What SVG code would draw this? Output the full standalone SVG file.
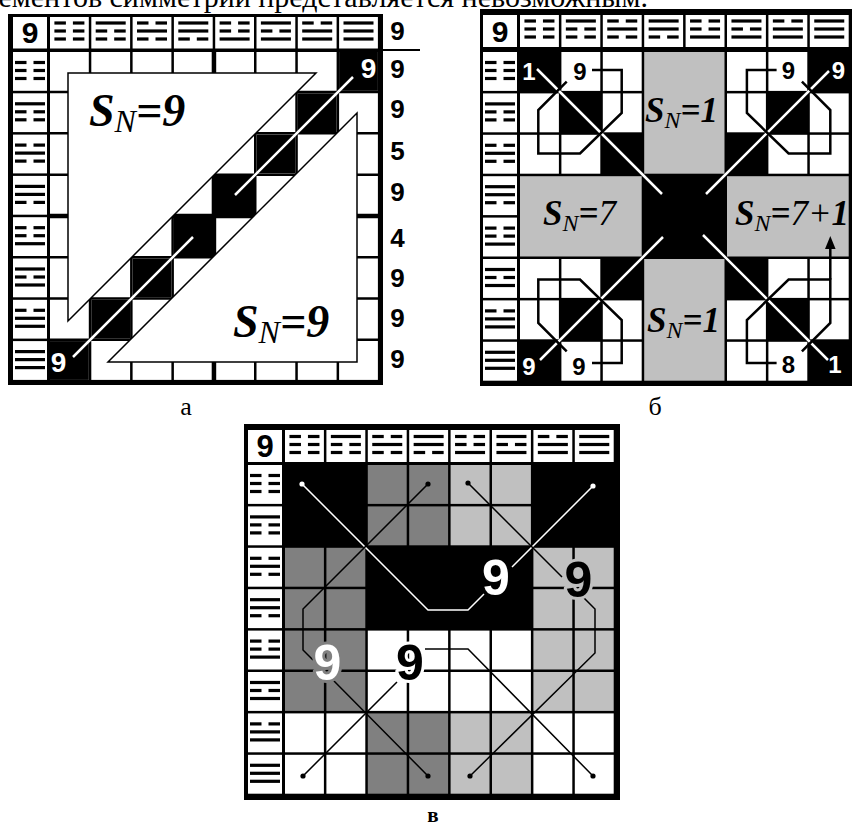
<svg xmlns="http://www.w3.org/2000/svg" xmlns:xlink="http://www.w3.org/1999/xlink" width="852" height="829" viewBox="0 0 852 829">
<style>
.k{fill:#000}.w{fill:#fff}.d{fill:#808080}.g{fill:#c0c0c0}
.num{font-family:"Liberation Sans",Arial,sans-serif;font-weight:bold;text-anchor:middle}
.sn{font-family:"Liberation Serif","Times New Roman",serif;font-style:italic;font-weight:bold}
.sub{font-weight:normal}
.cap{font-family:"Liberation Serif","Times New Roman",serif}
.wl{stroke:#fff;stroke-width:2.5;fill:none}
.bl{stroke:#000;stroke-width:2.5;fill:none}
.thin{stroke:#000;stroke-width:1.5;fill:none}
.thinw{stroke:#fff;stroke-width:1.5;fill:none}
.grid{stroke:#000;stroke-width:2.5;fill:none}
.tri{fill:#fff;stroke:#000;stroke-width:1.5}
</style>
<defs>
<rect id="hs" x="-15" y="-1.6" width="30" height="3.2"/>
<g id="hb"><rect x="-15" y="-1.6" width="11.5" height="3.2"/><rect x="3.5" y="-1.6" width="11.5" height="3.2"/></g>
<g id="t0"><use href="#hb" y="-8"/><use href="#hb"/><use href="#hb" y="8"/></g>
<g id="t1"><use href="#hs" y="-8"/><use href="#hb"/><use href="#hb" y="8"/></g>
<g id="t2"><use href="#hb" y="-8"/><use href="#hs"/><use href="#hb" y="8"/></g>
<g id="t3"><use href="#hs" y="-8"/><use href="#hs"/><use href="#hb" y="8"/></g>
<g id="t4"><use href="#hb" y="-8"/><use href="#hb"/><use href="#hs" y="8"/></g>
<g id="t5"><use href="#hs" y="-8"/><use href="#hb"/><use href="#hs" y="8"/></g>
<g id="t6"><use href="#hb" y="-8"/><use href="#hs"/><use href="#hs" y="8"/></g>
<g id="t7"><use href="#hs" y="-8"/><use href="#hs"/><use href="#hs" y="8"/></g>
<rect id="cb" width="38.9" height="38.9"/>
<rect id="hc" width="38.9" height="32"/>
<rect id="lc" width="34" height="38.9"/>
</defs>

<rect width="852" height="829" fill="#fff"/>
<text x="648" y="7" class="cap" font-size="30" text-anchor="end">элементов симметрии представляется невозможным.</text>

<!-- ================= Panel a ================= -->
<g id="panel-a">
<rect x="8" y="14" width="375" height="371" class="k"/>
<g id="a-header" class="w">
<rect x="13" y="17" width="34" height="31.5"/>
<rect x="50" y="17" width="38.8" height="31.5"/><rect x="91.3" y="17" width="38.8" height="31.5"/><rect x="132.6" y="17" width="38.8" height="31.5"/><rect x="173.9" y="17" width="38.8" height="31.5"/><rect x="215.2" y="17" width="38.8" height="31.5"/><rect x="256.5" y="17" width="38.8" height="31.5"/><rect x="297.8" y="17" width="38.8" height="31.5"/><rect x="339.1" y="17" width="38.8" height="31.5"/>
<rect x="13" y="52" width="34" height="38.8"/><rect x="13" y="93.3" width="34" height="38.8"/><rect x="13" y="134.6" width="34" height="38.8"/><rect x="13" y="175.9" width="34" height="38.8"/><rect x="13" y="217.2" width="34" height="38.8"/><rect x="13" y="258.5" width="34" height="38.8"/><rect x="13" y="299.8" width="34" height="38.8"/><rect x="13" y="341.1" width="34" height="38.8"/>
</g>
<g id="a-trigrams" class="k">
<use href="#t0" x="69.4" y="31"/><use href="#t1" x="110.7" y="31"/><use href="#t2" x="152" y="31"/><use href="#t3" x="193.3" y="31"/><use href="#t4" x="234.6" y="31"/><use href="#t5" x="275.9" y="31"/><use href="#t6" x="317.2" y="31"/><use href="#t7" x="358.5" y="31"/>
<use href="#t0" x="30" y="70.5"/><use href="#t1" x="30" y="111.8"/><use href="#t2" x="30" y="153.1"/><use href="#t3" x="30" y="194.4"/><use href="#t4" x="30" y="235.7"/><use href="#t5" x="30" y="277"/><use href="#t6" x="30" y="318.3"/><use href="#t7" x="30" y="359.6"/>
</g>
<text x="30" y="43" class="num" font-size="30">9</text>
<g id="a-grid">
<rect x="50" y="52" width="327.9" height="327.9" class="w"/>
<path class="grid" d="M90.05 52V380M131.35 52V380M172.65 52V380M255.25 52V380M296.55 52V380M337.85 52V380M50 92.05H378M50 133.35H378M50 174.65H378M50 257.25H378M50 298.55H378M50 339.85H378"/>
<path stroke="#000" stroke-width="4.5" fill="none" d="M213.95 52V380M50 215.95H378"/>
<g class="k">
<rect x="50" y="341.1" width="38.8" height="38.8"/><rect x="91.3" y="299.8" width="38.8" height="38.8"/><rect x="132.6" y="258.5" width="38.8" height="38.8"/><rect x="173.9" y="217.2" width="38.8" height="38.8"/><rect x="215.2" y="175.9" width="38.8" height="38.8"/><rect x="256.5" y="134.6" width="38.8" height="38.8"/><rect x="297.8" y="93.3" width="38.8" height="38.8"/><rect x="339.1" y="52" width="38.8" height="38.8"/>
</g>
</g>
<g id="a-triangles">
<polygon class="tri" points="68,73 316,73 68,321"/>
<polygon class="tri" points="357,113 357,362 108,362"/>
</g>
<g id="a-connectors">
<path class="wl" d="M73 357L193 237M235 195L353 77"/>
</g>
<text x="368.5" y="78" class="num" font-size="28" fill="#fff">9</text>
<text x="58.5" y="372" class="num" font-size="28" fill="#fff">9</text>
<text x="89" y="126" class="sn" font-size="46">S<tspan class="sub" font-size="32" dy="6">N</tspan><tspan dy="-6">=9</tspan></text>
<text x="233" y="337" class="sn" font-size="46">S<tspan class="sub" font-size="32" dy="6">N</tspan><tspan dy="-6">=9</tspan></text>
<g id="a-rowsums" class="num" font-size="26">
<text x="397.5" y="40">9</text>
<text x="397.5" y="78">9</text><text x="397.5" y="118">9</text><text x="397.5" y="160">5</text><text x="397.5" y="201">9</text><text x="397.5" y="247">4</text><text x="397.5" y="287">9</text><text x="397.5" y="327">9</text><text x="397.5" y="368">9</text>
</g>
<line x1="383" y1="50" x2="420" y2="50" stroke="#000" stroke-width="2"/>
<text x="186" y="415" class="cap" font-size="26" text-anchor="middle">а</text>
</g>

<!-- ================= Panel b ================= -->
<g id="panel-b">
<rect x="480" y="9" width="372" height="377" class="k"/>
<g id="b-header" class="w">
<rect x="483" y="15" width="34" height="32"/>
<use href="#hc" x="520" y="15"/><use href="#hc" x="561.4" y="15"/><use href="#hc" x="602.8" y="15"/><use href="#hc" x="644.2" y="15"/><use href="#hc" x="685.6" y="15"/><use href="#hc" x="727" y="15"/><use href="#hc" x="768.4" y="15"/><use href="#hc" x="809.8" y="15"/>
<use href="#lc" x="483" y="52"/><use href="#lc" x="483" y="93.4"/><use href="#lc" x="483" y="134.8"/><use href="#lc" x="483" y="176.2"/><use href="#lc" x="483" y="217.6"/><use href="#lc" x="483" y="259"/><use href="#lc" x="483" y="300.4"/><use href="#lc" x="483" y="341.8"/>
</g>
<g id="b-trigrams" class="k">
<use href="#t0" x="539.45" y="29"/><use href="#t1" x="580.85" y="29"/><use href="#t2" x="622.25" y="29"/><use href="#t3" x="663.65" y="29"/><use href="#t4" x="705.05" y="29"/><use href="#t5" x="746.45" y="29"/><use href="#t6" x="787.85" y="29"/><use href="#t7" x="829.25" y="29"/>
<use href="#t0" x="500" y="70.5"/><use href="#t1" x="500" y="111.9"/><use href="#t2" x="500" y="153.3"/><use href="#t3" x="500" y="194.7"/><use href="#t4" x="500" y="236.1"/><use href="#t5" x="500" y="277.5"/><use href="#t6" x="500" y="318.9"/><use href="#t7" x="500" y="360.3"/>
</g>
<text x="500" y="42" class="num" font-size="30">9</text>
<g id="b-cells" class="w">
<use href="#cb" x="561.4" y="52"/><use href="#cb" x="602.8" y="52"/><use href="#cb" x="520" y="93.4"/><use href="#cb" x="602.8" y="93.4"/><use href="#cb" x="520" y="134.8"/><use href="#cb" x="561.4" y="134.8"/>
<use href="#cb" x="727" y="52"/><use href="#cb" x="768.4" y="52"/><use href="#cb" x="727" y="93.4"/><use href="#cb" x="809.8" y="93.4"/><use href="#cb" x="768.4" y="134.8"/><use href="#cb" x="809.8" y="134.8"/>
<use href="#cb" x="520" y="259"/><use href="#cb" x="561.4" y="259"/><use href="#cb" x="520" y="300.4"/><use href="#cb" x="602.8" y="300.4"/><use href="#cb" x="561.4" y="341.8"/><use href="#cb" x="602.8" y="341.8"/>
<use href="#cb" x="768.4" y="259"/><use href="#cb" x="809.8" y="259"/><use href="#cb" x="727" y="300.4"/><use href="#cb" x="809.8" y="300.4"/><use href="#cb" x="727" y="341.8"/><use href="#cb" x="768.4" y="341.8"/>
</g>
<g id="b-gray" class="g">
<rect x="644.2" y="52" width="80.3" height="121.7"/>
<rect x="520" y="176.2" width="121.7" height="80.3"/>
<rect x="727" y="176.2" width="121.7" height="80.3"/>
<rect x="644.2" y="259" width="80.3" height="121.7"/>
</g>
<g id="b-connectors">
<path class="wl" d="M537 69L662 194M829 71L706 194M540 360L663 237M703 235L828 360"/>
<path class="bl" d="M592 70H621.7V113L580 153.5H538.3V110L566.7 81.7"/>
<path class="bl" d="M776.6 70H746.9V113L788.6 153.5H830.3V110L801.9 81.7"/>
<path class="bl" d="M592 363H621.7V320L580 279.5H538.3V323L566.7 351.3"/>
<path class="bl" d="M776.6 363H746.9V320L788.6 279.5H830.3V323L801.9 351.3"/>
<path class="bl" stroke-width="3" d="M830.3 279.5V247"/>
<polygon points="830.3,236 825,249 835.6,249" class="k"/>
</g>
<g id="b-labels" class="num" font-size="24">
<text x="529" y="80" fill="#fff">1</text><text x="580" y="80">9</text>
<text x="788.5" y="79">9</text><text x="838.5" y="79" fill="#fff">9</text>
<text x="529" y="375" fill="#fff">9</text><text x="579" y="375">9</text>
<text x="788.5" y="373">8</text><text x="835" y="373" fill="#fff">1</text>
</g>
<text x="645" y="122" class="sn" font-size="35">S<tspan class="sub" font-size="24" dy="6">N</tspan><tspan dy="-6">=1</tspan></text>
<text x="543" y="225" class="sn" font-size="35">S<tspan class="sub" font-size="24" dy="6">N</tspan><tspan dy="-6">=</tspan><tspan class="sub">7</tspan></text>
<text x="735" y="225" class="sn" font-size="35">S<tspan class="sub" font-size="24" dy="6">N</tspan><tspan dy="-6">=</tspan><tspan class="sub">7+</tspan>1</text>
<text x="647" y="332" class="sn" font-size="35">S<tspan class="sub" font-size="24" dy="6">N</tspan><tspan dy="-6">=1</tspan></text>
<text x="655" y="415" class="cap" font-size="26" text-anchor="middle">б</text>
</g>

<!-- ================= Panel c ================= -->
<g id="panel-c">
<rect x="244" y="424" width="376" height="376" class="k"/>
<g id="c-header" class="w">
<rect x="248" y="430" width="34" height="32"/>
<use href="#hc" x="285" y="430"/><use href="#hc" x="326.4" y="430"/><use href="#hc" x="367.8" y="430"/><use href="#hc" x="409.2" y="430"/><use href="#hc" x="450.6" y="430"/><use href="#hc" x="492" y="430"/><use href="#hc" x="533.4" y="430"/><use href="#hc" x="574.8" y="430"/>
<use href="#lc" x="248" y="465"/><use href="#lc" x="248" y="506.4"/><use href="#lc" x="248" y="547.8"/><use href="#lc" x="248" y="589.2"/><use href="#lc" x="248" y="630.6"/><use href="#lc" x="248" y="672"/><use href="#lc" x="248" y="713.4"/><use href="#lc" x="248" y="754.8"/>
</g>
<g id="c-trigrams" class="k">
<use href="#t0" x="304.45" y="444.5"/><use href="#t1" x="345.85" y="444.5"/><use href="#t2" x="387.25" y="444.5"/><use href="#t3" x="428.65" y="444.5"/><use href="#t4" x="470.05" y="444.5"/><use href="#t5" x="511.45" y="444.5"/><use href="#t6" x="552.85" y="444.5"/><use href="#t7" x="594.25" y="444.5"/>
<use href="#t0" x="265" y="483.5"/><use href="#t1" x="265" y="524.9"/><use href="#t2" x="265" y="566.3"/><use href="#t3" x="265" y="607.7"/><use href="#t4" x="265" y="649.1"/><use href="#t5" x="265" y="690.5"/><use href="#t6" x="265" y="731.9"/><use href="#t7" x="265" y="773.3"/>
</g>
<text x="265" y="457" class="num" font-size="31">9</text>
<g id="c-cells">
<g class="d">
<use href="#cb" x="367.8" y="465"/><use href="#cb" x="409.2" y="465"/><use href="#cb" x="367.8" y="506.4"/><use href="#cb" x="409.2" y="506.4"/>
<use href="#cb" x="285" y="547.8"/><use href="#cb" x="326.4" y="547.8"/><use href="#cb" x="285" y="589.2"/><use href="#cb" x="326.4" y="589.2"/>
<use href="#cb" x="285" y="630.6"/><use href="#cb" x="326.4" y="630.6"/><use href="#cb" x="285" y="672"/><use href="#cb" x="326.4" y="672"/>
<use href="#cb" x="367.8" y="713.4"/><use href="#cb" x="409.2" y="713.4"/><use href="#cb" x="367.8" y="754.8"/><use href="#cb" x="409.2" y="754.8"/>
</g>
<g class="g">
<use href="#cb" x="450.6" y="465"/><use href="#cb" x="492" y="465"/><use href="#cb" x="450.6" y="506.4"/><use href="#cb" x="492" y="506.4"/>
<use href="#cb" x="533.4" y="547.8"/><use href="#cb" x="574.8" y="547.8"/><use href="#cb" x="533.4" y="589.2"/><use href="#cb" x="574.8" y="589.2"/>
<use href="#cb" x="533.4" y="630.6"/><use href="#cb" x="574.8" y="630.6"/><use href="#cb" x="533.4" y="672"/><use href="#cb" x="574.8" y="672"/>
<use href="#cb" x="450.6" y="713.4"/><use href="#cb" x="492" y="713.4"/><use href="#cb" x="450.6" y="754.8"/><use href="#cb" x="492" y="754.8"/>
</g>
<g class="w">
<use href="#cb" x="367.8" y="630.6"/><use href="#cb" x="409.2" y="630.6"/><use href="#cb" x="450.6" y="630.6"/><use href="#cb" x="492" y="630.6"/>
<use href="#cb" x="367.8" y="672"/><use href="#cb" x="409.2" y="672"/><use href="#cb" x="450.6" y="672"/><use href="#cb" x="492" y="672"/>
<use href="#cb" x="285" y="713.4"/><use href="#cb" x="326.4" y="713.4"/><use href="#cb" x="533.4" y="713.4"/><use href="#cb" x="574.8" y="713.4"/>
<use href="#cb" x="285" y="754.8"/><use href="#cb" x="326.4" y="754.8"/><use href="#cb" x="533.4" y="754.8"/><use href="#cb" x="574.8" y="754.8"/>
</g>
</g>
<g id="c-connectors">
<path class="thinw" d="M302 484L428 610H468L484 594M512 567L593 486"/>
<path class="thin" d="M428 484L303 609V650L313 660M333 680L428 776M303 776L397 682M468 483L562 577M583 597L595 609V653L470 776M425 649H468L593 776"/>
<g fill="#fff"><circle cx="302" cy="484" r="2.6"/><circle cx="593" cy="486" r="2.6"/></g>
<g fill="#000"><circle cx="428" cy="484" r="2.6"/><circle cx="468" cy="483" r="2.6"/><circle cx="303" cy="776" r="2.6"/><circle cx="428" cy="776" r="2.6"/><circle cx="470" cy="776" r="2.6"/><circle cx="593" cy="776" r="2.6"/></g>
</g>
<g id="c-labels" class="num" font-size="50" style="paint-order:stroke" stroke-width="6" stroke-linejoin="round">
<text x="496" y="595" fill="#fff" stroke="#000">9</text>
<text x="578.5" y="597" fill="#000" stroke="#c0c0c0">9</text>
<text x="327.5" y="680" fill="#fff" stroke="#808080">9</text>
<text x="410" y="680" fill="#000" stroke="#fff">9</text>
</g>
<text x="433" y="822" class="cap" font-size="21" font-weight="bold" text-anchor="middle">в</text>
</g>
</svg>
